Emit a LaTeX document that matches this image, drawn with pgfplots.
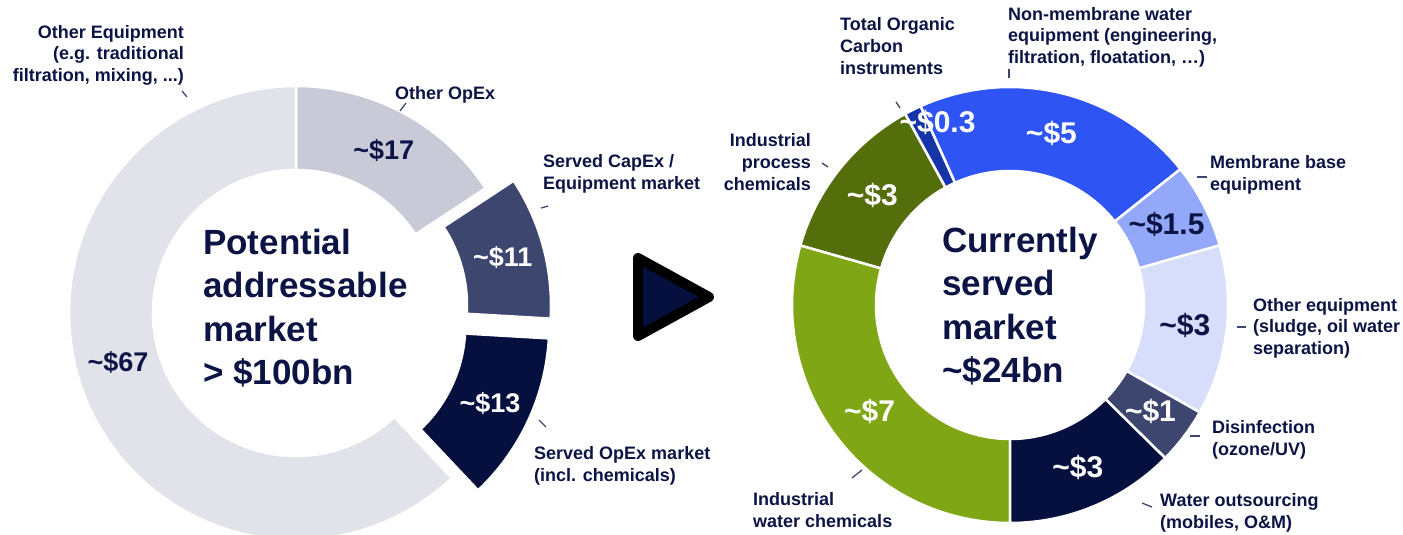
\documentclass[border=0pt]{standalone}
\usepackage{pgfplots}
\pgfplotsset{compat=1.18}
\usepackage{pgfplotstable}
\usetikzlibrary{calc}
\usepackage{fontspec}
\setmainfont{Liberation Sans}

\definecolor{navytext}{HTML}{0C1445}
\definecolor{lgray}{HTML}{E1E2EA}
\definecolor{ogray}{HTML}{C8CAD8}
\definecolor{slate}{HTML}{3D466E}
\definecolor{navy}{HTML}{06103F}
\definecolor{tocblue}{HTML}{1434A8}
\definecolor{nmblue}{HTML}{2E55F4}
\definecolor{mbblue}{HTML}{93A8F8}
\definecolor{ltblue}{HTML}{D6DEFB}
\definecolor{iwcgreen}{HTML}{7FA614}
\definecolor{ipcolive}{HTML}{546E0C}
\definecolor{leader}{HTML}{3D466E}

% left donut: clockwise from 12 o'clock
\pgfplotstableread{
value explode fc tc dx dy
17 0 ogray navytext 0 0
11 29 slate white 0 0
13 29 navy white 0 0
67 0 lgray navytext -6 -19
}\leftdata
% right donut: clockwise from 6 o'clock
\pgfplotstableread{
value explode fc tc dx dy
7 0 iwcgreen white 0 0
3 0 ipcolive white 0 0
0.3 0 tocblue white 6 -25
5 0 nmblue white 0 0
1.5 0 mbblue navytext 0 0
3 0 ltblue navytext 0 0
1 0 slate white 0 0
3 0 navy white 0 0
}\rightdata

\tikzset{
  lab/.style={font=\fontsize{18}{21.6}\selectfont\bfseries, text=navytext, inner sep=0pt},
  big/.style={font=\fontsize{35}{43.3}\selectfont\bfseries, text=navytext, inner sep=0pt, align=left},
  valL/.style={font=\fontsize{27}{30}\selectfont\bfseries, inner sep=0pt},
  valR/.style={font=\fontsize{30}{33}\selectfont\bfseries, inner sep=0pt},
  ld/.style={draw=leader, line width=1.3pt}
}

% #1 table, #2 cx, #3 cy, #4 r, #5 R, #6 start angle, #7 last row, #8 value style
\newcommand\donut[8]{%
  \gdef\dnTot{0}%
  \pgfplotsinvokeforeach{0,...,#7}{%
    \pgfplotstablegetelem{##1}{value}\of{#1}%
    \pgfmathsetmacro\dnTmp{\dnTot+\pgfplotsretval}\xdef\dnTot{\dnTmp}}%
  \xdef\dnCum{#6}%
  \pgfplotsinvokeforeach{0,...,#7}{%
    \pgfplotstablegetelem{##1}{value}\of{#1}\let\dnVal\pgfplotsretval
    \pgfplotstablegetelem{##1}{explode}\of{#1}\let\dnEx\pgfplotsretval
    \pgfplotstablegetelem{##1}{fc}\of{#1}\let\dnFc\pgfplotsretval
    \pgfmathsetmacro\dnA{\dnCum}%
    \pgfmathsetmacro\dnB{\dnCum+\dnVal/\dnTot*360}%
    \xdef\dnCum{\dnB}%
    \pgfmathsetmacro\dnM{(\dnA+\dnB)/2}%
    \pgfmathsetmacro\dnCx{#2+\dnEx*sin(\dnM)}%
    \pgfmathsetmacro\dnCy{#3-\dnEx*cos(\dnM)}%
    \pgfmathsetmacro\dnTA{90-\dnA}%
    \pgfmathsetmacro\dnTB{90-\dnB}%
    \edef\dnCmd{\noexpand\fill[fill=\dnFc, draw=white, line width=2.5pt]
      ($(axis cs:\dnCx,\dnCy)+(\dnTA:#5pt)$) arc[start angle=\dnTA, end angle=\dnTB, radius=#5pt]
      -- ($(axis cs:\dnCx,\dnCy)+(\dnTB:#4pt)$) arc[start angle=\dnTB, end angle=\dnTA, radius=#4pt] -- cycle;}%
    \dnCmd
  }%
  \xdef\dnCum{#6}%
  \pgfplotsinvokeforeach{0,...,#7}{%
    \pgfplotstablegetelem{##1}{value}\of{#1}\let\dnVal\pgfplotsretval
    \pgfplotstablegetelem{##1}{explode}\of{#1}\let\dnEx\pgfplotsretval
    \pgfplotstablegetelem{##1}{tc}\of{#1}\let\dnTc\pgfplotsretval
    \pgfplotstablegetelem{##1}{dx}\of{#1}\let\dnDx\pgfplotsretval
    \pgfplotstablegetelem{##1}{dy}\of{#1}\let\dnDy\pgfplotsretval
    \pgfmathsetmacro\dnA{\dnCum}%
    \pgfmathsetmacro\dnB{\dnCum+\dnVal/\dnTot*360}%
    \xdef\dnCum{\dnB}%
    \pgfmathsetmacro\dnM{(\dnA+\dnB)/2}%
    \pgfmathsetmacro\dnRm{(#4+#5)/2+\dnEx}%
    \pgfmathsetmacro\dnLx{#2+\dnRm*sin(\dnM)+\dnDx}%
    \pgfmathsetmacro\dnLy{#3-\dnRm*cos(\dnM)+\dnDy}%
    \edef\dnCmd{\noexpand\node[#8, text=\dnTc] at (axis cs:\dnLx,\dnLy) {\noexpand\textasciitilde\noexpand\$\dnVal};}%
    \dnCmd
  }%
}

\begin{document}
\begin{tikzpicture}
\begin{axis}[width=1403pt, height=535pt, scale only axis,
  xmin=0, xmax=1403, ymin=0, ymax=535, y dir=reverse,
  hide axis, clip=false]

\donut{\leftdata}{296}{313}{143}{227}{0}{3}{valL}
\donut{\rightdata}{1010}{305}{134}{218}{180}{7}{valR}

% centre texts
\node[big, anchor=west] at (axis cs:203,308) {Potential\\addressable\\market\\> \$100bn};
\node[big, anchor=west] at (axis cs:942,306) {Currently\\served\\market\\\textasciitilde\$24bn};

% arrow
\draw[line width=10pt, line join=round, fill=navy, draw=black]
  (axis cs:638,258) -- (axis cs:638,336) -- (axis cs:709,297) -- cycle;

% category labels, left
\node[lab, anchor=east, align=right] at (axis cs:184,55) {Other Equipment\\(e.g. traditional\\filtration, mixing, ...)};
\node[lab, anchor=west, align=left] at (axis cs:395,95) {Other OpEx};
\node[lab, anchor=west, align=left] at (axis cs:543,174) {Served CapEx /\\Equipment market};
\node[lab, anchor=west, align=left] at (axis cs:534,466) {Served OpEx market\\(incl. chemicals)};
% category labels, right
\node[lab, anchor=west, align=left] at (axis cs:840,46) {Total Organic\\Carbon\\instruments};
\node[lab, anchor=west, align=left] at (axis cs:1008,37) {Non-membrane water\\equipment (engineering,\\filtration, floatation, …)};
\node[lab, anchor=east, align=right] at (axis cs:811,162) {Industrial\\process\\chemicals};
\node[lab, anchor=west, align=left] at (axis cs:1210,175) {Membrane base\\equipment};
\node[lab, anchor=west, align=left] at (axis cs:1253,328) {Other equipment\\(sludge, oil water\\separation)};
\node[lab, anchor=west, align=left] at (axis cs:1212,440) {Disinfection\\(ozone/UV)};
\node[lab, anchor=west, align=left] at (axis cs:1160,513) {Water outsourcing\\(mobiles, O\&M)};
\node[lab, anchor=west, align=left] at (axis cs:753,510) {Industrial\\water chemicals};

% leader lines
\draw[ld] (axis cs:182,91) -- (axis cs:187,97);
\draw[ld] (axis cs:400,111) -- (axis cs:406,103);
\draw[ld] (axis cs:541,208) -- (axis cs:548,206);
\draw[ld] (axis cs:539,420) -- (axis cs:546,427);
\draw[ld] (axis cs:896,102) -- (axis cs:900,108);
\draw[ld] (axis cs:1009,69) -- (axis cs:1009,78);
\draw[ld] (axis cs:822,163) -- (axis cs:828,167);
\draw[ld] (axis cs:1197,177) -- (axis cs:1207,177);
\draw[ld] (axis cs:1237,327) -- (axis cs:1246,327);
\draw[ld] (axis cs:1190,436) -- (axis cs:1200,436);
\draw[ld] (axis cs:1142,503) -- (axis cs:1152,507);
\draw[ld] (axis cs:852,478) -- (axis cs:862,470);
\end{axis}
\pgfresetboundingbox
\path (current axis.south west) rectangle (current axis.north east);
\end{tikzpicture}
\end{document}
